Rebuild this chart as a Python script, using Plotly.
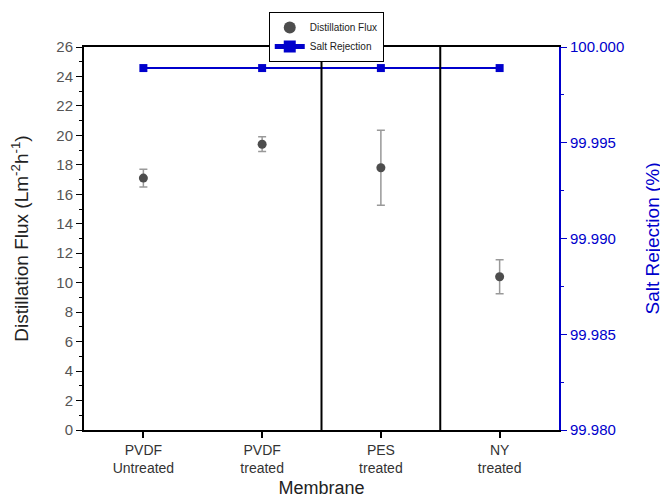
import plotly.graph_objects as go

categories = ["PVDF<br>Untreated", "PVDF<br>treated", "PES<br>treated", "NY<br>treated"]
flux = [17.1, 19.4, 17.8, 10.4]
flux_err = [0.6, 0.5, 2.55, 1.15]
rejection = [99.9989, 99.9989, 99.9989, 99.9989]
separators = [1.5, 2.5]

xpos = list(range(len(categories)))
FONT = "Liberation Sans, Arial, sans-serif"
BLUE = "#0000cc"

fig = go.Figure()
fig.add_trace(go.Scatter(
    x=xpos, y=flux, mode="markers", name="Distillation Flux",
    marker=dict(color="#4d4d4d", size=9, symbol="circle"),
    error_y=dict(type="data", array=flux_err, visible=True, color="#999999", thickness=1.5, width=4),
))
fig.add_trace(go.Scatter(
    x=xpos, y=rejection, mode="lines+markers", name="Salt Rejection", yaxis="y2",
    line=dict(color=BLUE, width=2), marker=dict(color=BLUE, size=8, symbol="square"),
))
for s in separators:
    fig.add_shape(type="line", xref="x", yref="paper", x0=s, x1=s, y0=0, y1=1,
                  line=dict(color="black", width=2))

fig.update_layout(
    width=660, height=490,
    margin=dict(l=76, r=109, t=39, b=68, autoexpand=False),
    paper_bgcolor="white", plot_bgcolor="white",
    font=dict(family=FONT, size=14, color="#333333"),
    showlegend=True,
    legend=dict(x=0.51, y=1.0914, xanchor="center", yanchor="top",
                bordercolor="black", borderwidth=1, bgcolor="white",
                font=dict(size=10, color="#222222"), itemwidth=30,
                tracegroupgap=0, itemsizing="constant"),
    xaxis=dict(range=[-0.5, 3.5], tickvals=xpos, ticktext=categories,
               showline=True, linecolor="black", linewidth=2, mirror=True,
               ticks="outside", ticklen=6, tickwidth=2, tickcolor="black",
               showgrid=False, zeroline=False,
               tickfont=dict(size=14, color="#333333"),
               title=dict(text="Membrane", font=dict(size=18, color="#222222"), standoff=8)),
    yaxis=dict(range=[0, 26], dtick=2, showline=True, linecolor="black", linewidth=2,
               ticks="outside", ticklen=6, tickwidth=1, tickcolor="black",
               minor=dict(ticks="outside", dtick=1, ticklen=3, tickcolor="black"),
               showgrid=False, zeroline=False,
               tickfont=dict(size=15, color="#555555"),
               title=dict(text="Distillation Flux (Lm<sup>-2</sup>h<sup>-1</sup>)",
                          font=dict(size=19, color="#222222"), standoff=24)),
    yaxis2=dict(range=[99.98, 100.0], dtick=0.005, tickformat=".3f", overlaying="y", side="right",
                showline=True, linecolor=BLUE, linewidth=2,
                ticks="outside", ticklen=6, tickwidth=1, tickcolor=BLUE,
                minor=dict(ticks="outside", dtick=0.0025, ticklen=3, tickcolor=BLUE),
                showgrid=False, zeroline=False,
                tickfont=dict(size=15, color=BLUE),
                title=dict(text="Salt Rejection (%)", font=dict(size=19, color=BLUE), standoff=22)),
)
fig.write_html("out.html")
